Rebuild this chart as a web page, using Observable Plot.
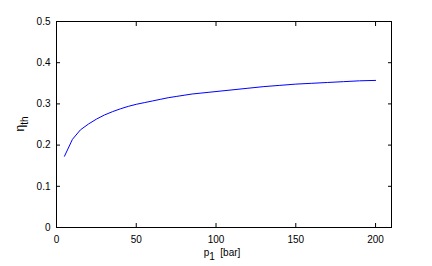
<!DOCTYPE html>
<html><head><meta charset="utf-8">
<script src="https://cdn.jsdelivr.net/npm/d3@7"></script>
<script src="https://cdn.jsdelivr.net/npm/@observablehq/plot@0.6"></script>
<style>body{margin:0;background:#fff}</style>
</head><body><div id="chart"></div>
<script>
const p1 = [5,10,15,20,25,30,35,40,45,50,55,60,65,70,75,80,85,90,95,100,110,120,130,140,150,160,170,180,190,200];
const eta = [0.173,0.214,0.237,0.251,0.263,0.273,0.281,0.288,0.294,0.299,0.303,0.307,0.311,0.315,0.318,0.321,0.324,0.326,0.328,0.330,0.334,0.338,0.342,0.345,0.348,0.350,0.352,0.354,0.356,0.357];
const xTicks = [0,50,100,150,200];
const yTicks = [0,0.1,0.2,0.3,0.4,0.5];
const data = p1.map((p,i)=>({p, e: eta[i]}));
const font = "Liberation Sans, Arial, sans-serif";
const chart = Plot.plot({
  width: 432, height: 266,
  marginLeft: 56, marginRight: 41, marginTop: 21, marginBottom: 39,
  style: {fontFamily: font, fontSize: "10px", color: "#000", background: "#fff"},
  x: {domain: [0,210], label: null},
  y: {domain: [0,0.5], label: null},
  marks: [
    Plot.frame({stroke: "#000"}),
    Plot.axisX(xTicks, {anchor: "bottom", tickSize: -4, tickPadding: 12, label: null, tickFormat: d => String(d)}),
    Plot.axisX(xTicks, {anchor: "top", tickSize: -4, label: null, tickFormat: () => ""}),
    Plot.axisY(yTicks, {anchor: "left", tickSize: -4, tickPadding: 10, label: null, tickFormat: d => d === 0 ? "0" : String(d)}),
    Plot.axisY(yTicks, {anchor: "right", tickSize: -4, label: null, tickFormat: () => ""}),
    Plot.line(data, {x: "p", y: "e", stroke: "#0000ff", strokeWidth: 1})
  ]
});
const svg = d3.select(chart);
const yl = svg.append("text").attr("transform", "translate(24,124) rotate(-90)")
  .attr("text-anchor", "middle").attr("font-family", font).attr("font-size", 12);
yl.append("tspan").text("η");
yl.append("tspan").attr("font-size", 10).attr("dy", 4).text("th");
const xl = svg.append("text").attr("x", 222).attr("y", 256)
  .attr("text-anchor", "middle").attr("font-family", font).attr("font-size", 10);
xl.append("tspan").text("p");
xl.append("tspan").attr("font-size", 10).attr("dy", 4).text("1");
xl.append("tspan").attr("dy", -4).text("\u00a0 [bar]");
document.getElementById("chart").appendChild(chart);
</script></body></html>
